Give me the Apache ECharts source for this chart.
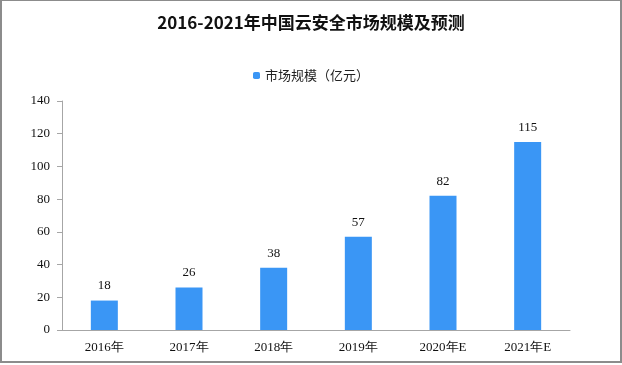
<!DOCTYPE html>
<html><head><meta charset="utf-8">
<script src="https://cdn.jsdelivr.net/npm/echarts@6/dist/echarts.min.js"></script>
<style>html,body{margin:0;padding:0;background:#fff}
#c{width:622px;height:363px;box-sizing:border-box;border:2px solid #8c8c8c;border-top:1px solid #8c8c8c}</style>
</head><body><div id="c"></div>
<script>
const categories = ['2016年','2017年','2018年','2019年','2020年E','2021年E'];
const marketSize = [18, 26, 38, 57, 82, 115];
const seriesName = '市场规模（亿元）';
const chart = echarts.init(document.getElementById('c'));
chart.setOption({
  animation:false,
  title:{text:'2016-2021年中国云安全市场规模及预测',left:'center',top:8,
    textStyle:{fontFamily:'Noto Sans CJK SC',fontSize:17,fontWeight:'bold',color:'#111'}},
  legend:{data:[seriesName],top:63,left:'center',itemWidth:7,itemHeight:7,itemGap:4,
    textStyle:{fontFamily:'Noto Sans CJK SC',fontSize:13,color:'#222'}},
  grid:{left:60,right:50,top:100,bottom:31},
  xAxis:{type:'category',data:categories,
    axisLine:{lineStyle:{color:'#a6a6a6'}},axisTick:{show:false},
    axisLabel:{color:'#111',fontSize:13,fontFamily:'Liberation Serif',margin:11}},
  yAxis:{type:'value',min:0,max:140,interval:20,
    axisLine:{show:true,lineStyle:{color:'#a6a6a6'}},
    axisTick:{show:true,length:5,lineStyle:{color:'#a6a6a6'}},
    splitLine:{show:false},
    axisLabel:{color:'#111',fontSize:13,fontFamily:'Liberation Serif',margin:12}},
  series:[{name:seriesName,type:'bar',data:marketSize,barWidth:27,
    itemStyle:{color:'#3a96f5'},
    label:{show:true,position:'top',distance:8,color:'#111',fontSize:13,fontFamily:'Liberation Serif'}}]
});
</script></body></html>
